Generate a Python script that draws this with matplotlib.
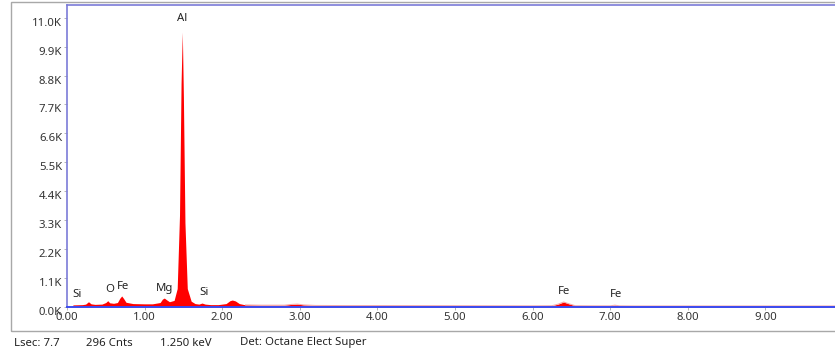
import matplotlib
matplotlib.use("Agg")
import matplotlib.pyplot as plt
import matplotlib.transforms as mtransforms
from matplotlib.patches import Rectangle

# ---- data (keV, counts) ----
energy = [0.00, 0.05, 0.08, 0.20, 0.24, 0.277, 0.31, 0.36, 0.45, 0.50, 0.525, 0.55, 0.60,
          0.65, 0.68, 0.705, 0.73, 0.76, 0.85, 1.00, 1.10, 1.20, 1.23, 1.254, 1.28, 1.32,
          1.38, 1.42, 1.45, 1.47, 1.486, 1.50, 1.52, 1.55, 1.60, 1.65, 1.70, 1.74, 1.78,
          1.85, 1.95, 2.05, 2.10, 2.13, 2.17, 2.22, 2.30, 2.50, 2.80, 2.90, 2.97, 3.05,
          3.20, 3.60, 4.00, 5.00, 6.00, 6.25, 6.33, 6.40, 6.47, 6.55, 6.80, 7.00, 7.06,
          7.12, 7.30, 8.00, 9.00, 10.0]
counts = [0, 0, 80, 90, 110, 200, 120, 100, 110, 170, 240, 160, 140,
          170, 330, 420, 320, 180, 130, 120, 120, 170, 300, 340, 280, 200,
          250, 700, 3500, 8500, 10450, 8000, 3200, 700, 220, 130, 110, 150, 110,
          90, 90, 130, 240, 265, 230, 130, 80, 70, 70, 100, 110, 80,
          60, 55, 55, 50, 45, 50, 110, 190, 120, 50, 45, 45, 70,
          45, 40, 40, 40, 40]

peak_labels = ["Si", "O", "Fe", "Mg", "Al", "Si", "Fe", "Fe"]
label_x = [0.13, 0.55, 0.72, 1.26, 1.49, 1.77, 6.41, 7.08]
label_y = [270, 460, 570, 500, 10740, 340, 390, 270]

y_ticks = [0, 1100, 2200, 3300, 4400, 5500, 6600, 7700, 8800, 9900, 11000]
y_tick_labels = ["0.0K", "1.1K", "2.2K", "3.3K", "4.4K", "5.5K", "6.6K", "7.7K",
                 "8.8K", "9.9K", "11.0K"]
x_ticks = [0, 1, 2, 3, 4, 5, 6, 7, 8, 9]
x_tick_labels = ["0.00", "1.00", "2.00", "3.00", "4.00", "5.00", "6.00", "7.00",
                 "8.00", "9.00"]
status_texts = ["Lsec: 7.7", "296 Cnts", "1.250 keV", "Det: Octane Elect Super"]

plt.rcParams['font.family'] = ['Noto Sans', 'DejaVu Sans']
W, H = 835, 361
fig = plt.figure(figsize=(W / 100, H / 100), dpi=100)

# outer gray frame
fig.patches.append(Rectangle((11 / W, 1 - 331 / H), 1.2, (331 - 2) / H,
                             transform=fig.transFigure, fill=False,
                             edgecolor="#a8a8a8", linewidth=1.0))

ax = fig.add_axes([67 / W, 1 - 307 / H, 776 / W, 302 / H])
ax.set_xlim(0, 10)
ax.set_ylim(0, 11480)

ax.fill_between(energy, counts, 0, color="#ff0000", linewidth=0)
tail_e = [e for e in energy if e >= 2.3]
tail_c = counts[len(energy) - len(tail_e):]
ax.plot(tail_e, tail_c, color="#f5a8a8", linewidth=0.7)

for s in ["left", "top", "right"]:
    ax.spines[s].set_color("#7b7bd8")
    ax.spines[s].set_linewidth(1.2)
ax.spines["bottom"].set_color("#3a4cf0")
ax.spines["bottom"].set_linewidth(1.4)

ax.set_xticks(x_ticks)
ax.set_xticklabels(x_tick_labels)
ax.set_yticks(y_ticks)
ax.set_yticklabels(y_tick_labels)
ax.tick_params(axis="both", labelsize=8.2, colors="#333333", length=2,
               width=0.6, pad=1.5)
ax.tick_params(axis="y", color="#aaaaaa")
ax.tick_params(axis="x", color="#aaaaaa")
off = mtransforms.ScaledTranslation(0, -4 / 100, fig.dpi_scale_trans)
for lab in ax.get_yticklabels():
    lab.set_transform(lab.get_transform() + off)

for t, x, y in zip(peak_labels, label_x, label_y):
    ax.text(x, y, t, ha="center", va="bottom", fontsize=8.2, color="#222222")

status_x = [14, 86, 160, 240]
for t, x in zip(status_texts, status_x):
    fig.text(x / W, 1 - 343 / H, t, ha="left", va="center", fontsize=8.2,
             color="#222222")

fig.savefig("out.png", dpi=100)
